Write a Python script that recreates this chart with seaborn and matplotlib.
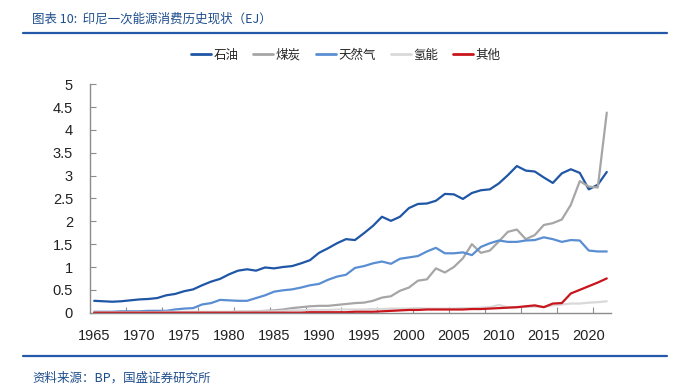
import matplotlib
matplotlib.use("Agg")
import matplotlib.pyplot as plt
from matplotlib.lines import Line2D
from matplotlib.ticker import FixedLocator
import numpy as np
import pandas as pd
import seaborn as sns

years = list(range(1965, 2023))

oil = [0.26, 0.25, 0.24, 0.25, 0.27, 0.29, 0.30, 0.32, 0.38, 0.41,
       0.47, 0.51, 0.60, 0.68, 0.74, 0.84, 0.92, 0.95, 0.92, 0.99,
       0.97, 1.00, 1.02, 1.08, 1.15, 1.31, 1.41, 1.52, 1.61, 1.59,
       1.74, 1.90, 2.10, 2.01, 2.10, 2.29, 2.38, 2.39, 2.45, 2.60,
       2.59, 2.49, 2.62, 2.68, 2.70, 2.83, 3.01, 3.21, 3.11, 3.09,
       2.96, 2.84, 3.05, 3.14, 3.06, 2.70, 2.80, 3.08]

coal = [0.01, 0.01, 0.01, 0.01, 0.01, 0.01, 0.01, 0.01, 0.01, 0.01,
        0.01, 0.01, 0.01, 0.01, 0.01, 0.01, 0.02, 0.02, 0.03, 0.04,
        0.05, 0.07, 0.10, 0.12, 0.14, 0.15, 0.15, 0.17, 0.19, 0.21,
        0.22, 0.26, 0.33, 0.36, 0.48, 0.55, 0.70, 0.73, 0.97, 0.88,
        1.00, 1.19, 1.50, 1.31, 1.36, 1.56, 1.77, 1.82, 1.61, 1.70,
        1.92, 1.96, 2.04, 2.36, 2.88, 2.76, 2.74, 4.38]

gas = [0.02, 0.02, 0.02, 0.03, 0.03, 0.03, 0.04, 0.04, 0.04, 0.07,
       0.09, 0.10, 0.18, 0.21, 0.28, 0.27, 0.26, 0.26, 0.32, 0.38,
       0.46, 0.49, 0.51, 0.55, 0.60, 0.63, 0.72, 0.79, 0.83, 0.98,
       1.02, 1.08, 1.12, 1.07, 1.18, 1.21, 1.24, 1.34, 1.42, 1.30,
       1.30, 1.32, 1.26, 1.44, 1.52, 1.58, 1.55, 1.55, 1.58, 1.59,
       1.65, 1.61, 1.55, 1.59, 1.58, 1.36, 1.34, 1.34]

hydro = [0.01, 0.01, 0.01, 0.01, 0.01, 0.01, 0.01, 0.01, 0.02, 0.02,
         0.02, 0.02, 0.02, 0.02, 0.02, 0.02, 0.03, 0.03, 0.03, 0.03,
         0.03, 0.04, 0.05, 0.05, 0.06, 0.06, 0.06, 0.07, 0.07, 0.07,
         0.07, 0.08, 0.08, 0.09, 0.09, 0.09, 0.10, 0.09, 0.09, 0.09,
         0.09, 0.10, 0.10, 0.11, 0.12, 0.17, 0.12, 0.12, 0.13, 0.13,
         0.13, 0.16, 0.18, 0.20, 0.20, 0.22, 0.23, 0.25]

other = [0.0, 0.0, 0.0, 0.0, 0.0, 0.0, 0.0, 0.0, 0.0, 0.0,
         0.0, 0.0, 0.0, 0.0, 0.0, 0.0, 0.0, 0.0, 0.0, 0.0,
         0.0, 0.0, 0.0, 0.0, 0.01, 0.01, 0.01, 0.01, 0.01, 0.02,
         0.02, 0.02, 0.03, 0.04, 0.05, 0.06, 0.06, 0.07, 0.07, 0.07,
         0.07, 0.07, 0.08, 0.08, 0.09, 0.10, 0.11, 0.12, 0.14, 0.16,
         0.12, 0.20, 0.21, 0.42, 0.50, 0.58, 0.66, 0.75]

series_names = ["石油", "煤炭", "天然气", "氢能", "其他"]
colors = ["#1F56A5", "#A6A6A6", "#5A8ED3", "#D9D9D9", "#C8141B"]
xtick_years = list(range(1965, 2021, 5))
ytick_values = [0, 0.5, 1, 1.5, 2, 2.5, 3, 3.5, 4, 4.5, 5]

df = pd.DataFrame({"year": years, "石油": oil, "煤炭": coal, "天然气": gas,
                   "氢能": hydro, "其他": other})
long_df = df.melt(id_vars="year", var_name="series", value_name="value")

sns.set_theme(style="white")
plt.rcParams["font.family"] = ["Noto Sans CJK SC", "DejaVu Sans"]

fig = plt.figure(figsize=(6.81, 3.88), dpi=100)
ax = fig.add_axes([0.1317, 0.1941, 0.7659, 0.5887])

sns.lineplot(data=long_df, x="year", y="value", hue="series",
             hue_order=series_names, palette=dict(zip(series_names, colors)),
             linewidth=1.6, ax=ax, legend=False)

ax.set_xlim(1964.5, 2022.5)
ax.set_ylim(0, 5)
ax.set_xlabel("")
ax.set_ylabel("")

ax.set_xticks(xtick_years)
ax.set_xticklabels([str(y) for y in xtick_years])
ax.xaxis.set_minor_locator(FixedLocator(np.arange(1968.5, 2022, 4)))
ax.tick_params(axis="x", which="major", length=0, pad=12)
ax.tick_params(axis="x", which="minor", length=4, direction="in",
               color="#8C8C8C", width=0.8, bottom=True)

ax.set_yticks(ytick_values)
ax.set_yticklabels([f"{v:g}" for v in ytick_values])
ax.tick_params(axis="y", length=4, direction="in", color="#8C8C8C",
               width=0.8, left=True, pad=12)

for lab in ax.get_xticklabels() + ax.get_yticklabels():
    lab.set_fontfamily("Liberation Sans")
    lab.set_fontsize(10.5)
    lab.set_color("#222222")

for side in ["top", "right"]:
    ax.spines[side].set_visible(False)
for side in ["left", "bottom"]:
    ax.spines[side].set_color("#8C8C8C")
    ax.spines[side].set_linewidth(1.0)

handles = [Line2D([0], [0], color=c, lw=2) for c in colors]
fig.legend(handles, series_names, loc="center", bbox_to_anchor=(0.508, 0.858),
           ncol=5, frameon=False, fontsize=9, handlelength=1.6,
           handletextpad=0.2, columnspacing=1.2)

fig.text(0.047, 0.951, "图表 10:  印尼一次能源消费历史现状（EJ）", fontsize=9,
         color="#1F4E8C", style="italic", va="center", ha="left")
fig.add_artist(Line2D([0.034, 0.979], [0.915, 0.915], color="#2458A8",
                      lw=1.6, transform=fig.transFigure))
fig.add_artist(Line2D([0.034, 0.979], [0.0825, 0.0825], color="#2458A8",
                      lw=1.6, transform=fig.transFigure))
fig.text(0.047, 0.026, "资料来源：BP，国盛证券研究所", fontsize=9,
         color="#1F4E8C", style="italic", va="center", ha="left")

fig.savefig("out.png", dpi=100)
plt.close(fig)
